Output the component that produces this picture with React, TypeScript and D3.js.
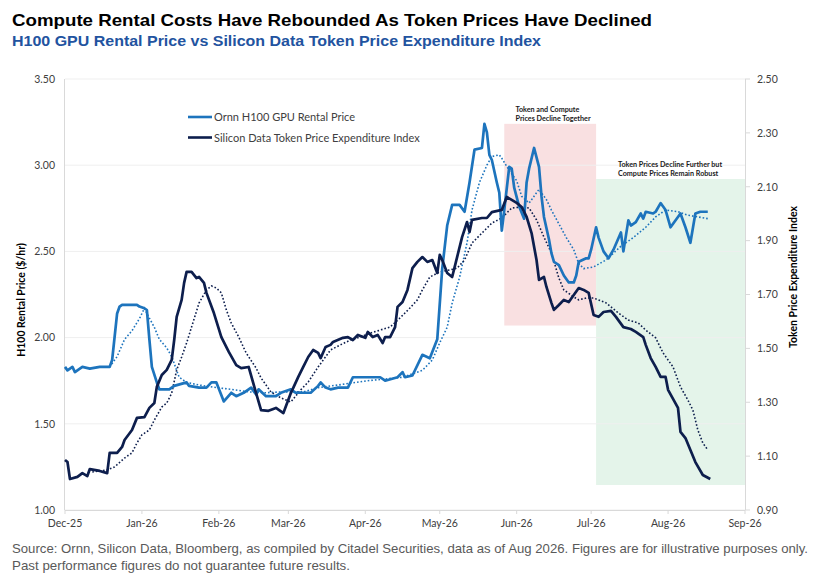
import React from 'react';
import * as d3 from 'd3';

// Data

type Point = [string, number];

// Ornn H100 GPU rental price, $/hr (left axis)
const ornnRental: Point[] = [
    ['2025-12-01', 1.83], ['2025-12-02', 1.81], ['2025-12-04', 1.83], ['2025-12-05', 1.80], ['2025-12-08', 1.83],
    ['2025-12-11', 1.82], ['2025-12-15', 1.83], ['2025-12-17', 1.83], ['2025-12-19', 1.83], ['2025-12-20', 1.87],
    ['2025-12-22', 2.14], ['2025-12-23', 2.18], ['2025-12-24', 2.19], ['2025-12-30', 2.19], ['2025-12-31', 2.18],
    ['2026-01-02', 2.17], ['2026-01-03', 2.16], ['2026-01-04', 1.99], ['2026-01-05', 1.83], ['2026-01-07', 1.74],
    ['2026-01-08', 1.70], ['2026-01-12', 1.70], ['2026-01-14', 1.72], ['2026-01-19', 1.74], ['2026-01-20', 1.72],
    ['2026-01-24', 1.71], ['2026-01-27', 1.71], ['2026-01-29', 1.74], ['2026-01-31', 1.74], ['2026-02-03', 1.63],
    ['2026-02-06', 1.68], ['2026-02-08', 1.66], ['2026-02-11', 1.68], ['2026-02-14', 1.71], ['2026-02-16', 1.67],
    ['2026-02-17', 1.70], ['2026-02-20', 1.66], ['2026-02-24', 1.66], ['2026-02-26', 1.68], ['2026-03-02', 1.70],
    ['2026-03-04', 1.68], ['2026-03-07', 1.68], ['2026-03-10', 1.68], ['2026-03-13', 1.72], ['2026-03-14', 1.74],
    ['2026-03-16', 1.71], ['2026-03-18', 1.70], ['2026-03-21', 1.71], ['2026-03-25', 1.71], ['2026-03-27', 1.77],
    ['2026-03-30', 1.77], ['2026-04-07', 1.77], ['2026-04-09', 1.75], ['2026-04-14', 1.77], ['2026-04-16', 1.80],
    ['2026-04-17', 1.77], ['2026-04-20', 1.78], ['2026-04-24', 1.90], ['2026-04-27', 1.88], ['2026-04-30', 1.99],
    ['2026-05-02', 2.40], ['2026-05-04', 2.65], ['2026-05-06', 2.77], ['2026-05-09', 2.77], ['2026-05-11', 2.73],
    ['2026-05-13', 2.90], ['2026-05-15', 3.09], ['2026-05-18', 3.10], ['2026-05-19', 3.24], ['2026-05-20', 3.19],
    ['2026-05-21', 3.06], ['2026-05-22', 3.03], ['2026-05-24', 2.90], ['2026-05-25', 2.84], ['2026-05-26', 2.62],
    ['2026-05-27', 2.74], ['2026-05-29', 2.99], ['2026-05-30', 2.98], ['2026-05-31', 2.87], ['2026-06-02', 2.76],
    ['2026-06-04', 2.69], ['2026-06-05', 2.90], ['2026-06-06', 2.98], ['2026-06-08', 3.10], ['2026-06-10', 2.99],
    ['2026-06-11', 2.82], ['2026-06-12', 2.70], ['2026-06-14', 2.57], ['2026-06-15', 2.49], ['2026-06-16', 2.44],
    ['2026-06-18', 2.42], ['2026-06-20', 2.36], ['2026-06-22', 2.32], ['2026-06-24', 2.32], ['2026-06-25', 2.36],
    ['2026-06-26', 2.44], ['2026-06-29', 2.46], ['2026-06-30', 2.46], ['2026-07-01', 2.51], ['2026-07-03', 2.64],
    ['2026-07-04', 2.58], ['2026-07-06', 2.50], ['2026-07-08', 2.46], ['2026-07-10', 2.51], ['2026-07-13', 2.61],
    ['2026-07-14', 2.50], ['2026-07-16', 2.68], ['2026-07-17', 2.65], ['2026-07-19', 2.67], ['2026-07-21', 2.72],
    ['2026-07-22', 2.69], ['2026-07-23', 2.73], ['2026-07-26', 2.72], ['2026-07-27', 2.73], ['2026-07-29', 2.78],
    ['2026-07-30', 2.76], ['2026-07-31', 2.74], ['2026-08-02', 2.64], ['2026-08-06', 2.72], ['2026-08-08', 2.64],
    ['2026-08-10', 2.55], ['2026-08-12', 2.72], ['2026-08-14', 2.73], ['2026-08-17', 2.73],
];

// Moving average of the rental price (dotted)
const ornnRentalAvg: Point[] = [
    ['2025-12-19', 1.83], ['2025-12-22', 1.89], ['2025-12-25', 1.99], ['2025-12-28', 2.04], ['2025-12-31', 2.11],
    ['2026-01-02', 2.17], ['2026-01-03', 2.14], ['2026-01-06', 2.06], ['2026-01-08', 1.99], ['2026-01-11', 1.94],
    ['2026-01-13', 1.89], ['2026-01-16', 1.77], ['2026-01-19', 1.74], ['2026-01-24', 1.725], ['2026-01-31', 1.71],
    ['2026-02-06', 1.70], ['2026-02-13', 1.685], ['2026-02-20', 1.68], ['2026-02-26', 1.685], ['2026-03-07', 1.685],
    ['2026-03-13', 1.71], ['2026-03-21', 1.725], ['2026-04-02', 1.75], ['2026-04-16', 1.77], ['2026-04-24', 1.81],
    ['2026-04-28', 1.87], ['2026-05-01', 1.97], ['2026-05-04', 2.06], ['2026-05-06', 2.20], ['2026-05-09', 2.35],
    ['2026-05-12', 2.55], ['2026-05-14', 2.74], ['2026-05-17', 2.90], ['2026-05-20', 3.00], ['2026-05-22', 3.05],
    ['2026-05-25', 3.06], ['2026-05-26', 3.04], ['2026-05-29', 2.97], ['2026-06-01', 2.91], ['2026-06-03', 2.82],
    ['2026-06-06', 2.78], ['2026-06-09', 2.84], ['2026-06-10', 2.86], ['2026-06-13', 2.80], ['2026-06-15', 2.74],
    ['2026-06-18', 2.66], ['2026-06-21', 2.58], ['2026-06-24', 2.51], ['2026-06-26', 2.43], ['2026-06-28', 2.40],
    ['2026-07-02', 2.41], ['2026-07-07', 2.45], ['2026-07-13', 2.53], ['2026-07-18', 2.58], ['2026-07-23', 2.64],
    ['2026-07-27', 2.70], ['2026-07-31', 2.74], ['2026-08-05', 2.73], ['2026-08-09', 2.71], ['2026-08-13', 2.70],
    ['2026-08-17', 2.69],
];

// Silicon Data token price expenditure index (right axis)
const tokenIndex: Point[] = [
    ['2025-12-01', 1.086], ['2025-12-02', 1.078], ['2025-12-03', 1.015], ['2025-12-06', 1.023], ['2025-12-08', 1.037],
    ['2025-12-10', 1.026], ['2025-12-11', 1.052], ['2025-12-15', 1.045], ['2025-12-18', 1.037], ['2025-12-19', 1.112],
    ['2025-12-22', 1.112], ['2025-12-24', 1.134], ['2025-12-25', 1.16], ['2025-12-28', 1.197], ['2025-12-30', 1.242],
    ['2026-01-02', 1.245], ['2026-01-04', 1.279], ['2026-01-06', 1.297], ['2026-01-07', 1.357], ['2026-01-09', 1.401],
    ['2026-01-11', 1.42], ['2026-01-13', 1.457], ['2026-01-14', 1.531], ['2026-01-15', 1.617], ['2026-01-17', 1.68],
    ['2026-01-18', 1.743], ['2026-01-19', 1.784], ['2026-01-21', 1.784], ['2026-01-23', 1.761], ['2026-01-24', 1.765],
    ['2026-01-26', 1.743], ['2026-01-27', 1.706], ['2026-01-30', 1.631], ['2026-02-02', 1.542], ['2026-02-05', 1.487],
    ['2026-02-08', 1.438], ['2026-02-10', 1.427], ['2026-02-13', 1.431], ['2026-02-16', 1.334], ['2026-02-18', 1.271],
    ['2026-02-21', 1.268], ['2026-02-24', 1.279], ['2026-02-27', 1.26], ['2026-03-02', 1.334], ['2026-03-05', 1.394],
    ['2026-03-07', 1.431], ['2026-03-09', 1.468], ['2026-03-11', 1.494], ['2026-03-13', 1.483], ['2026-03-14', 1.464],
    ['2026-03-16', 1.505], ['2026-03-18', 1.513], ['2026-03-19', 1.524], ['2026-03-23', 1.539], ['2026-03-25', 1.542],
    ['2026-03-27', 1.531], ['2026-03-29', 1.55], ['2026-04-01', 1.539], ['2026-04-02', 1.561], ['2026-04-04', 1.542],
    ['2026-04-06', 1.55], ['2026-04-08', 1.52], ['2026-04-09', 1.542], ['2026-04-11', 1.542], ['2026-04-13', 1.579],
    ['2026-04-14', 1.654], ['2026-04-16', 1.672], ['2026-04-18', 1.717], ['2026-04-20', 1.798], ['2026-04-22', 1.821],
    ['2026-04-24', 1.839], ['2026-04-26', 1.821], ['2026-04-28', 1.828], ['2026-04-30', 1.78], ['2026-05-01', 1.847],
    ['2026-05-02', 1.828], ['2026-05-04', 1.78], ['2026-05-06', 1.765], ['2026-05-08', 1.839], ['2026-05-10', 1.913],
    ['2026-05-12', 1.969], ['2026-05-13', 1.932], ['2026-05-14', 1.977], ['2026-05-18', 1.984], ['2026-05-20', 1.984],
    ['2026-05-22', 2.006], ['2026-05-26', 2.014], ['2026-05-28', 2.062], ['2026-05-30', 2.051], ['2026-06-01', 2.04],
    ['2026-06-03', 2.025], ['2026-06-05', 1.988], ['2026-06-07', 1.928], ['2026-06-09', 1.828], ['2026-06-10', 1.754],
    ['2026-06-12', 1.765], ['2026-06-13', 1.728], ['2026-06-15', 1.669], ['2026-06-16', 1.643], ['2026-06-18', 1.661],
    ['2026-06-20', 1.68], ['2026-06-22', 1.672], ['2026-06-24', 1.698], ['2026-06-26', 1.724], ['2026-06-28', 1.717],
    ['2026-06-30', 1.706], ['2026-07-02', 1.624], ['2026-07-04', 1.617], ['2026-07-06', 1.635], ['2026-07-09', 1.639],
    ['2026-07-11', 1.617], ['2026-07-14', 1.579], ['2026-07-17', 1.572], ['2026-07-19', 1.561], ['2026-07-22', 1.542],
    ['2026-07-23', 1.513], ['2026-07-25', 1.464], ['2026-07-27', 1.431], ['2026-07-29', 1.394], ['2026-07-31', 1.394],
    ['2026-08-01', 1.346], ['2026-08-05', 1.279], ['2026-08-06', 1.19], ['2026-08-08', 1.167], ['2026-08-10', 1.123],
    ['2026-08-12', 1.078], ['2026-08-15', 1.03], ['2026-08-18', 1.015],
];

// Moving average of the token index (dotted)
const tokenIndexAvg: Point[] = [
    ['2025-12-12', 1.041], ['2025-12-15', 1.045], ['2025-12-18', 1.049], ['2025-12-21', 1.06], ['2025-12-25', 1.093],
    ['2025-12-28', 1.112], ['2025-12-30', 1.149], ['2026-01-01', 1.179], ['2026-01-04', 1.197], ['2026-01-06', 1.234],
    ['2026-01-09', 1.282], ['2026-01-11', 1.297], ['2026-01-13', 1.334], ['2026-01-15', 1.42], ['2026-01-17', 1.468],
    ['2026-01-19', 1.52], ['2026-01-21', 1.579], ['2026-01-24', 1.668], ['2026-01-27', 1.717], ['2026-01-29', 1.732],
    ['2026-01-31', 1.724], ['2026-02-02', 1.706], ['2026-02-04', 1.643], ['2026-02-06', 1.594], ['2026-02-09', 1.542],
    ['2026-02-12', 1.483], ['2026-02-16', 1.427], ['2026-02-18', 1.39], ['2026-02-22', 1.338], ['2026-02-26', 1.316],
    ['2026-03-02', 1.301], ['2026-03-06', 1.346], ['2026-03-09', 1.375], ['2026-03-13', 1.431], ['2026-03-18', 1.494],
    ['2026-03-22', 1.513], ['2026-03-26', 1.531], ['2026-03-30', 1.542], ['2026-04-03', 1.557], ['2026-04-07', 1.568],
    ['2026-04-11', 1.579], ['2026-04-15', 1.613], ['2026-04-19', 1.65], ['2026-04-22', 1.68], ['2026-04-24', 1.717],
    ['2026-04-27', 1.765], ['2026-05-01', 1.784], ['2026-05-05', 1.791], ['2026-05-08', 1.798], ['2026-05-11', 1.828],
    ['2026-05-14', 1.891], ['2026-05-18', 1.928], ['2026-05-22', 1.965], ['2026-05-26', 1.984], ['2026-05-30', 2.021],
    ['2026-06-03', 2.025], ['2026-06-06', 2.021], ['2026-06-09', 1.977], ['2026-06-12', 1.913], ['2026-06-15', 1.854],
    ['2026-06-18', 1.761], ['2026-06-20', 1.717], ['2026-06-24', 1.691], ['2026-06-26', 1.68], ['2026-06-29', 1.687],
    ['2026-07-02', 1.687], ['2026-07-07', 1.669], ['2026-07-12', 1.631], ['2026-07-16', 1.605], ['2026-07-20', 1.594],
    ['2026-07-23', 1.568], ['2026-07-27', 1.539], ['2026-07-30', 1.483], ['2026-08-03', 1.431], ['2026-08-06', 1.357],
    ['2026-08-09', 1.308], ['2026-08-11', 1.271], ['2026-08-13', 1.197], ['2026-08-15', 1.149], ['2026-08-17', 1.123],
];

const leftTicks = [1.0, 1.5, 2.0, 2.5, 3.0, 3.5];
const rightTicks = [0.9, 1.1, 1.3, 1.5, 1.7, 1.9, 2.1, 2.3, 2.5];

// Shaded phases, top/bottom in left-axis units
type Phase = { start: string; end: string; top: number; bottom: number; fill: string; lines: string[] };
const phases: Phase[] = [
    { start: '2026-05-27', end: '2026-07-03', top: 3.24, bottom: 2.07, fill: '#f9e0e1', lines: ['Token and Compute', 'Prices Decline Together'] },
    { start: '2026-07-03', end: '2026-09-01', top: 2.92, bottom: 1.145, fill: '#e4f4ea', lines: ['Token Prices Decline Further but', 'Compute Prices Remain Robust'] },
];

const W = 818;
const H = 581;
const plot = { left: 65, right: 745, top: 79, bottom: 510 };

const ORNN = '#1d74bd';
const NAVY = '#0d1e4d';
const tickFont = 'Lato, "Open Sans", sans-serif';
const arial = '"Liberation Sans", Arial, sans-serif';

const parse = d3.timeParse('%Y-%m-%d');

function App() {
    const x = d3.scaleTime()
        .domain([new Date(2025, 11, 1), new Date(2026, 8, 1)])
        .range([plot.left, plot.right]);
    const yL = d3.scaleLinear().domain([1, 3.5]).range([plot.bottom, plot.top]);
    const yR = d3.scaleLinear().domain([0.9, 2.5]).range([plot.bottom, plot.top]);

    const lineL = d3.line<Point>().x((d) => x(parse(d[0])!)).y((d) => yL(d[1]));
    const lineR = d3.line<Point>().x((d) => x(parse(d[0])!)).y((d) => yR(d[1]));

    const months = d3.timeMonth.range(new Date(2025, 11, 1), new Date(2026, 8, 2));
    const fmtMonth = d3.timeFormat('%b-%y');

    return (
        <svg width={W} height={H} style={{ position: 'absolute', left: 0, top: 0, background: '#fff' }}>
            {/* titles */}
            <text x={12} y={26} fontFamily={arial} fontWeight="bold" fontSize={16.5} fill="#000"
                textLength={640} lengthAdjust="spacingAndGlyphs">
                Compute Rental Costs Have Rebounded As Token Prices Have Declined
            </text>
            <text x={12} y={46} fontFamily={arial} fontWeight="bold" fontSize={14} fill="#2253a0"
                textLength={529} lengthAdjust="spacingAndGlyphs">
                H100 GPU Rental Price vs Silicon Data Token Price Expenditure Index
            </text>

            {/* shaded phases */}
            {phases.map((p) => (
                <rect key={p.start}
                    x={x(parse(p.start)!)} y={yL(p.top)}
                    width={x(parse(p.end)!) - x(parse(p.start)!)} height={yL(p.bottom) - yL(p.top)}
                    fill={p.fill} />
            ))}

            {/* grid */}
            {leftTicks.map((t) => (
                <line key={t} x1={plot.left} x2={plot.right} y1={yL(t)} y2={yL(t)} stroke="#efefef" strokeWidth={1} />
            ))}
            <line x1={plot.left - 0.5} x2={plot.left - 0.5} y1={plot.top} y2={plot.bottom} stroke="#d9d9d9" />
            <line x1={plot.right + 0.5} x2={plot.right + 0.5} y1={plot.top} y2={plot.bottom} stroke="#d9d9d9" />
            <line x1={plot.left} x2={plot.right} y1={plot.bottom + 0.5} y2={plot.bottom + 0.5} stroke="#d9d9d9" />

            {/* left axis */}
            {leftTicks.map((t) => (
                <text key={t} x={55} y={yL(t) + 3.8} textAnchor="end" fontFamily={tickFont} fontSize={10.5} fill="#404040">
                    {t.toFixed(2)}
                </text>
            ))}
            {/* right axis */}
            {rightTicks.map((t) => (
                <g key={t}>
                    <line x1={plot.right} x2={plot.right + 5} y1={yR(t)} y2={yR(t)} stroke="#d9d9d9" />
                    <text x={757} y={yR(t) + 3.8} fontFamily={tickFont} fontSize={10.5} fill="#404040">
                        {t.toFixed(2)}
                    </text>
                </g>
            ))}
            {/* x axis */}
            {months.map((m) => (
                <g key={m.getTime()}>
                    <line x1={x(m)} x2={x(m)} y1={plot.bottom} y2={plot.bottom + 4} stroke="#d9d9d9" />
                    <text x={x(m)} y={527} textAnchor="middle" fontFamily={tickFont} fontSize={10.5} fill="#404040">
                        {fmtMonth(m)}
                    </text>
                </g>
            ))}

            {/* axis titles */}
            <text transform="translate(25,300) rotate(-90)" textAnchor="middle" fontFamily={tickFont} fontWeight="bold" fontSize={10.5} fill="#000">
                H100 Rental Price ($/hr)
            </text>
            <text transform="translate(797,277) rotate(-90)" textAnchor="middle" fontFamily={tickFont} fontWeight="bold" fontSize={10.5} fill="#000">
                Token Price Expenditure Index
            </text>

            {/* phase notes */}
            {phases.map((p, i) => (
                <text key={p.start} fontFamily={tickFont} fontWeight="bold" fontSize={7.2} fill="#1a1a1a">
                    {p.lines.map((l, j) => (
                        <tspan key={l} x={i === 0 ? 515.5 : 618} y={(i === 0 ? 111.5 : 167) + j * 9}>{l}</tspan>
                    ))}
                </text>
            ))}

            {/* series */}
            <path d={lineL(ornnRentalAvg)!} fill="none" stroke={ORNN} strokeWidth={1.6} strokeDasharray="1.6 2" />
            <path d={lineR(tokenIndexAvg)!} fill="none" stroke={NAVY} strokeWidth={1.6} strokeDasharray="1.6 2" />
            <path d={lineL(ornnRental)!} fill="none" stroke={ORNN} strokeWidth={2.7} strokeLinejoin="round" />
            <path d={lineR(tokenIndex)!} fill="none" stroke={NAVY} strokeWidth={2.7} strokeLinejoin="round" />

            {/* legend */}
            <line x1={188} x2={212} y1={117} y2={117} stroke={ORNN} strokeWidth={2.6} />
            <text x={214} y={121} fontFamily={tickFont} fontSize={11} fill="#404040">Ornn H100 GPU Rental Price</text>
            <line x1={188} x2={212} y1={137.5} y2={137.5} stroke={NAVY} strokeWidth={2.6} />
            <text x={214} y={141.5} fontFamily={tickFont} fontSize={11} fill="#404040">Silicon Data Token Price Expenditure Index</text>

            {/* footer */}
            <text x={12} y={553} fontFamily={arial} fontSize={12.6} fill="#595959"
                textLength={796} lengthAdjust="spacingAndGlyphs">
                Source: Ornn, Silicon Data, Bloomberg, as compiled by Citadel Securities, data as of Aug 2026. Figures are for illustrative purposes only.
            </text>
            <text x={12} y={570} fontFamily={arial} fontSize={12.6} fill="#595959"
                textLength={338} lengthAdjust="spacingAndGlyphs">
                Past performance figures do not guarantee future results.
            </text>
        </svg>
    );
}

export default App;
